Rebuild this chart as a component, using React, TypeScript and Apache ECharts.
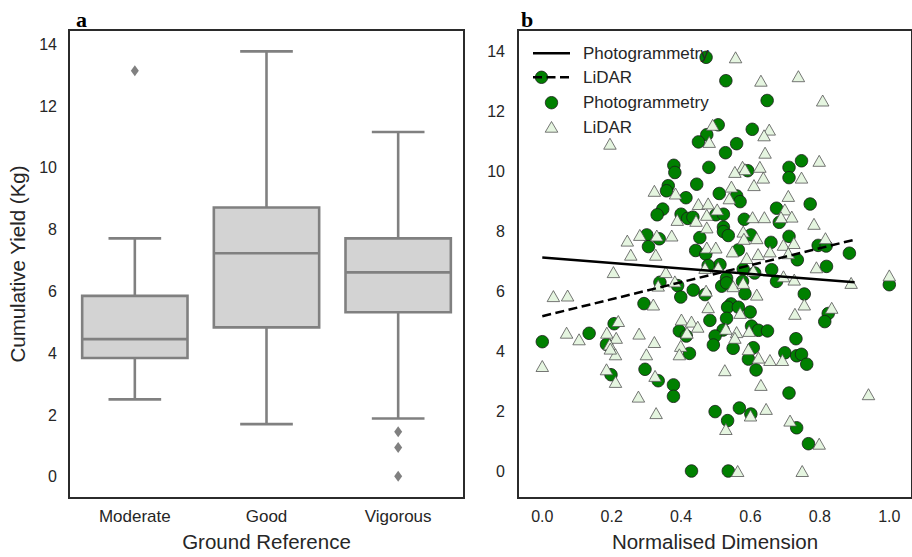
import React, { useEffect, useRef } from 'react';
import * as echarts from 'echarts';

const categories = ['Moderate', 'Good', 'Vigorous'];
// [lower whisker, Q1, median, Q3, upper whisker]
const boxStats = [
  [2.51, 3.85, 4.46, 5.86, 7.72],
  [1.71, 4.84, 7.24, 8.72, 13.77],
  [1.89, 5.33, 6.62, 7.72, 11.16],
];
const outliers = [
  ['Moderate', 13.14],
  ['Vigorous', 1.46],
  ['Vigorous', 0.95],
  ['Vigorous', 0.02],
];
const yTicks = [0, 2, 4, 6, 8, 10, 12, 14];
const xTicks = [0, 0.2, 0.4, 0.6, 0.8, 1.0];

const photogrammetry = [
  [0.472, 13.79], [0.529, 13.01], [0.648, 12.35], [0.507, 11.54], [0.474, 11.21],
  [0.45, 10.97], [0.605, 11.39], [0.56, 10.91], [0.528, 10.61], [0.747, 10.34],
  [0.379, 10.19], [0.382, 9.95], [0.48, 10.12], [0.711, 10.12], [0.711, 9.78],
  [0.592, 10.01], [0.445, 9.56], [0.363, 9.51], [0.358, 9.34], [0.51, 9.25],
  [0.56, 9.17], [0.57, 8.98], [0.414, 9.11], [0.347, 8.73], [0.331, 8.54],
  [0.4, 8.56], [0.419, 8.42], [0.434, 8.46], [0.5, 8.54], [0.522, 8.56],
  [0.675, 8.76], [0.772, 8.9], [0.582, 8.39], [0.683, 8.29], [0.522, 8.13],
  [0.522, 7.98], [0.536, 7.85], [0.601, 7.87], [0.301, 7.87], [0.337, 7.74],
  [0.306, 7.48], [0.454, 7.78], [0.659, 7.62], [0.711, 7.82], [0.442, 7.35],
  [0.471, 7.23], [0.565, 7.37], [0.795, 7.52], [0.818, 7.5], [0.885, 7.26],
  [0.735, 7.04], [0.819, 6.82], [0.512, 6.88], [0.478, 6.85], [0.661, 6.71],
  [0.579, 6.73], [0.531, 6.43], [0.612, 6.6], [0.675, 6.32], [0.577, 6.32],
  [0.339, 6.29], [0.39, 6.18], [0.517, 6.16], [0.531, 6.27], [1.0, 6.21],
  [0.435, 6.03], [0.469, 5.88], [0.399, 5.8], [0.584, 5.91], [0.755, 5.9],
  [0.293, 5.58], [0.544, 5.57], [0.534, 5.46], [0.565, 5.46], [0.599, 5.3],
  [0.824, 5.25], [0.814, 4.98], [0.483, 5.02], [0.531, 5.09], [0.207, 4.91],
  [0.521, 4.7], [0.603, 4.83], [0.623, 4.69], [0.649, 4.67], [0.395, 4.67],
  [0.415, 4.5], [0.498, 4.5], [0.493, 4.2], [0.0, 4.31], [0.135, 4.59],
  [0.185, 4.22], [0.55, 4.09], [0.608, 4.11], [0.731, 4.41], [0.699, 3.94],
  [0.733, 3.84], [0.747, 3.89], [0.762, 3.56], [0.594, 3.73], [0.616, 3.37],
  [0.424, 3.92], [0.296, 3.39], [0.198, 3.21], [0.334, 3.01], [0.378, 2.87],
  [0.378, 2.49], [0.711, 2.6], [0.498, 1.98], [0.568, 2.1], [0.601, 1.9],
  [0.534, 1.68], [0.733, 1.44], [0.767, 0.91], [0.43, 0.0], [0.536, 0.0],
];

const lidar = [
  [0.557, 13.79], [0.63, 13.01], [0.738, 13.16], [0.808, 12.35], [0.491, 11.54],
  [0.481, 10.97], [0.654, 11.38], [0.639, 11.19], [0.642, 10.61], [0.195, 10.91],
  [0.798, 10.34], [0.577, 10.14], [0.584, 10.06], [0.555, 9.97], [0.627, 10.14],
  [0.637, 9.78], [0.61, 9.53], [0.747, 9.78], [0.323, 9.34], [0.384, 9.25],
  [0.545, 9.48], [0.539, 9.09], [0.709, 9.17], [0.45, 8.9], [0.478, 8.92],
  [0.504, 8.72], [0.699, 8.72], [0.719, 8.48], [0.474, 8.54], [0.389, 8.37],
  [0.443, 8.34], [0.606, 8.46], [0.64, 8.46], [0.688, 8.46], [0.474, 8.12],
  [0.783, 8.24], [0.281, 7.87], [0.33, 7.85], [0.373, 7.85], [0.245, 7.68],
  [0.579, 7.98], [0.581, 7.74], [0.618, 7.76], [0.816, 7.76], [0.695, 7.54],
  [0.725, 7.6], [0.474, 7.45], [0.5, 7.45], [0.548, 7.32], [0.656, 7.32],
  [0.709, 7.26], [0.255, 7.21], [0.327, 7.21], [0.589, 7.1], [0.622, 7.23],
  [0.205, 6.63], [0.356, 6.63], [0.79, 6.79], [1.0, 6.52], [0.032, 5.83],
  [0.073, 5.85], [0.382, 6.32], [0.334, 6.18], [0.472, 6.01], [0.55, 6.16],
  [0.579, 6.27], [0.618, 5.88], [0.608, 6.68], [0.695, 6.49], [0.726, 6.38],
  [0.89, 6.27], [0.32, 5.55], [0.478, 5.46], [0.57, 5.27], [0.728, 5.24],
  [0.755, 5.55], [0.834, 5.44], [0.219, 5.0], [0.401, 5.05], [0.43, 4.98],
  [0.448, 4.81], [0.417, 4.61], [0.529, 4.74], [0.56, 4.63], [0.596, 4.67],
  [0.555, 4.44], [0.07, 4.61], [0.106, 4.39], [0.186, 4.61], [0.213, 4.44],
  [0.194, 4.22], [0.211, 3.89], [0.185, 3.39], [0.279, 4.58], [0.323, 4.3],
  [0.3, 3.89], [0.399, 4.17], [0.395, 3.89], [0.594, 4.06], [0.623, 3.78],
  [0.656, 3.7], [0.692, 3.7], [0.0, 3.5], [0.526, 3.36], [0.325, 3.17],
  [0.211, 2.97], [0.63, 2.87], [0.277, 2.48], [0.94, 2.56], [0.328, 1.93],
  [0.6, 1.85], [0.645, 2.07], [0.714, 1.68], [0.529, 1.4], [0.798, 0.91],
  [0.563, 0.0], [0.749, 0.0], [0.196, 4.08], [0.469, 6.77], [0.507, 6.79],
];

const photoFit = [[0, 7.12], [0.9, 6.29]];
const lidarFit = [[0, 5.16], [0.9, 7.71]];

const FONT = '"Liberation Sans", Arial, sans-serif';
const TXT = '#262626';

export default function App() {
  const ref = useRef<HTMLDivElement>(null);

  useEffect(() => {
    if (!ref.current) return;
    const chart = echarts.init(ref.current, null, { renderer: 'svg' });
    const boxData = boxStats.map((s, i) => [i, ...s]);
    const stroke = { stroke: '#808080', lineWidth: 2.6, fill: 'none' };

    const option: any = {
      animation: false,
      backgroundColor: '#ffffff',
      textStyle: { fontFamily: FONT },
      grid: [
        { left: 69, top: 30, width: 395, height: 471, show: true, borderColor: '#2b2b2b', borderWidth: 2, backgroundColor: 'transparent' },
        { left: 518, top: 30, width: 394, height: 471, show: true, borderColor: '#2b2b2b', borderWidth: 2, backgroundColor: 'transparent' },
      ],
      xAxis: [
        {
          type: 'category', gridIndex: 0, data: categories, boundaryGap: true,
          axisLine: { show: false }, axisTick: { show: false }, splitLine: { show: false },
          axisLabel: { color: TXT, fontSize: 17, margin: 10, fontFamily: FONT },
          name: 'Ground Reference', nameLocation: 'middle', nameGap: 33,
          nameTextStyle: { color: TXT, fontSize: 20.5, fontFamily: FONT },
        },
        {
          type: 'value', gridIndex: 1, min: -0.07, max: 1.0654,
          axisLine: { show: false }, axisTick: { show: false }, splitLine: { show: false },
          axisLabel: { color: TXT, fontSize: 16, margin: 10, fontFamily: FONT, customValues: xTicks, formatter: (v: number) => v.toFixed(1) },
          name: 'Normalised Dimension', nameLocation: 'middle', nameGap: 33,
          nameTextStyle: { color: TXT, fontSize: 20.5, fontFamily: FONT },
        },
      ],
      yAxis: [
        {
          type: 'value', gridIndex: 0, min: -0.68, max: 14.46,
          axisLine: { show: false }, axisTick: { show: false }, splitLine: { show: false },
          axisLabel: { color: TXT, fontSize: 16, margin: 12, fontFamily: FONT, customValues: yTicks },
          name: 'Cumulative Yield (Kg)', nameLocation: 'middle', nameGap: 41,
          nameTextStyle: { color: TXT, fontSize: 20.5, fontFamily: FONT },
        },
        {
          type: 'value', gridIndex: 1, min: -0.9, max: 14.7,
          axisLine: { show: false }, axisTick: { show: false }, splitLine: { show: false },
          axisLabel: { color: TXT, fontSize: 16, margin: 13, fontFamily: FONT, customValues: yTicks },
        },
      ],
      series: [
        {
          type: 'custom', xAxisIndex: 0, yAxisIndex: 0, data: boxData,
          encode: { x: 0, y: [1, 2, 3, 4, 5] },
          renderItem: (params: any, api: any) => {
            const idx = api.value(0);
            const lo = api.coord([idx, api.value(1)]);
            const q1 = api.coord([idx, api.value(2)]);
            const med = api.coord([idx, api.value(3)]);
            const q3 = api.coord([idx, api.value(4)]);
            const hi = api.coord([idx, api.value(5)]);
            const band = api.size([1, 0])[0];
            const bw = band * 0.8;
            const cx = lo[0];
            return {
              type: 'group',
              children: [
                { type: 'line', shape: { x1: cx, y1: q3[1], x2: cx, y2: hi[1] }, style: stroke },
                { type: 'line', shape: { x1: cx, y1: q1[1], x2: cx, y2: lo[1] }, style: stroke },
                { type: 'line', shape: { x1: cx - bw / 4, y1: hi[1], x2: cx + bw / 4, y2: hi[1] }, style: stroke },
                { type: 'line', shape: { x1: cx - bw / 4, y1: lo[1], x2: cx + bw / 4, y2: lo[1] }, style: stroke },
                { type: 'rect', shape: { x: cx - bw / 2, y: q3[1], width: bw, height: q1[1] - q3[1] }, style: { fill: '#d3d3d3', stroke: '#808080', lineWidth: 2.6 } },
                { type: 'line', shape: { x1: cx - bw / 2, y1: med[1], x2: cx + bw / 2, y2: med[1] }, style: stroke },
              ],
            };
          },
        },
        {
          type: 'scatter', xAxisIndex: 0, yAxisIndex: 0, data: outliers,
          symbol: 'diamond', symbolSize: [8, 11],
          itemStyle: { color: '#808080', opacity: 1 },
        },
        {
          type: 'scatter', xAxisIndex: 1, yAxisIndex: 1, data: photogrammetry, name: 'Photogrammetry',
          symbol: 'circle', symbolSize: 12.5,
          itemStyle: { color: '#008000', borderColor: '#1a1a1a', borderWidth: 0.8, opacity: 1 },
          z: 2,
        },
        {
          type: 'scatter', xAxisIndex: 1, yAxisIndex: 1, data: lidar, name: 'LiDAR',
          symbol: 'triangle', symbolSize: [12.5, 11],
          itemStyle: { color: '#e5f5e0', borderColor: '#555555', borderWidth: 0.8, opacity: 1 },
          z: 3,
        },
        {
          type: 'line', xAxisIndex: 1, yAxisIndex: 1, data: photoFit, showSymbol: false, symbol: 'none',
          lineStyle: { color: '#000000', width: 2.5 }, z: 4,
        },
        {
          type: 'line', xAxisIndex: 1, yAxisIndex: 1, data: lidarFit, showSymbol: false, symbol: 'none',
          lineStyle: { color: '#000000', width: 2.5, type: [9, 4.5] }, z: 4,
        },
      ],
      graphic: [
        { type: 'text', x: 76, y: 19, z: 100, style: { text: 'a', font: 'bold 22px "Liberation Serif", serif', fill: '#000', verticalAlign: 'middle' } },
        { type: 'text', x: 521, y: 19, z: 100, style: { text: 'b', font: 'bold 22px "Liberation Serif", serif', fill: '#000', verticalAlign: 'middle' } },
        { type: 'line', z: 100, shape: { x1: 533, y1: 53.3, x2: 570, y2: 53.3 }, style: { stroke: '#000', lineWidth: 2.5 } },
        { type: 'text', x: 583, y: 53.3, z: 100, style: { text: 'Photogrammetry', font: '17px "Liberation Sans", Arial, sans-serif', fill: TXT, verticalAlign: 'middle' } },
        { type: 'circle', z: 100, shape: { cx: 541.5, cy: 77.3, r: 6.2 }, style: { fill: '#008000', stroke: '#1a1a1a', lineWidth: 0.8 } },
        { type: 'line', z: 101, shape: { x1: 533, y1: 77.3, x2: 570, y2: 77.3 }, style: { stroke: '#000', lineWidth: 2.5, lineDash: [9, 4.5] } },
        { type: 'text', x: 583, y: 77.3, z: 100, style: { text: 'LiDAR', font: '17px "Liberation Sans", Arial, sans-serif', fill: TXT, verticalAlign: 'middle' } },
        { type: 'circle', z: 100, shape: { cx: 551.5, cy: 102.7, r: 6.2 }, style: { fill: '#008000', stroke: '#1a1a1a', lineWidth: 0.8 } },
        { type: 'text', x: 583, y: 102.7, z: 100, style: { text: 'Photogrammetry', font: '17px "Liberation Sans", Arial, sans-serif', fill: TXT, verticalAlign: 'middle' } },
        { type: 'polygon', z: 100, shape: { points: [[551.5, 121.5], [557.8, 132.2], [545.2, 132.2]] }, style: { fill: '#e5f5e0', stroke: '#555555', lineWidth: 0.8 } },
        { type: 'text', x: 583, y: 127, z: 100, style: { text: 'LiDAR', font: '17px "Liberation Sans", Arial, sans-serif', fill: TXT, verticalAlign: 'middle' } },
      ],
    };
    chart.setOption(option);
    return () => chart.dispose();
  }, []);

  return (
    <div
      ref={ref}
      style={{ position: 'fixed', left: 0, top: 0, width: 912, height: 557, background: '#fff' }}
    />
  );
}
